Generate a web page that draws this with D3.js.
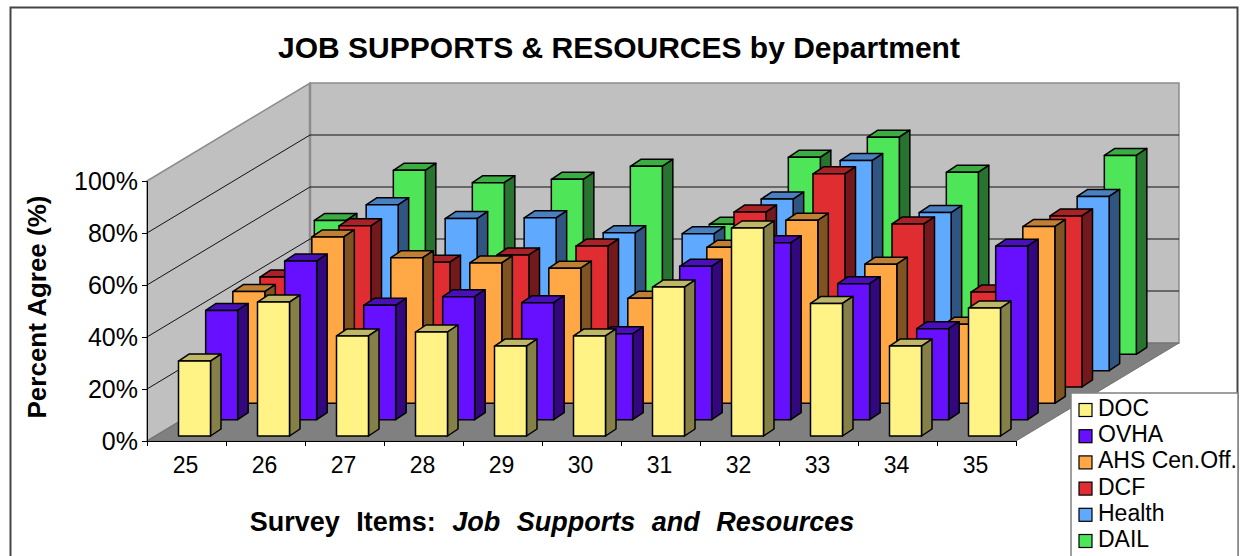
<!DOCTYPE html>
<html><head><meta charset="utf-8">
<script src="https://cdn.jsdelivr.net/npm/d3@7/dist/d3.min.js"></script>
<style>html,body{margin:0;padding:0;background:#fff}svg{display:block}text{font-family:"Liberation Sans",Arial,sans-serif;fill:#000}</style>
</head><body><svg id="c" width="1244" height="556"></svg>
<script>
const titleText = "JOB SUPPORTS & RESOURCES by Department";
const categories = ["25","26","27","28","29","30","31","32","33","34","35"];
const seriesNames = ["DOC","OVHA","AHS Cen.Off.","DCF","Health","DAIL"];
const percentTicks = [0,20,40,60,80,100];
const doc    = [28.8,51.5,38.5,40,34.6,38.5,57.3,80,51,34.6,49.2];
const ovha   = [42,61,44,47.3,45,33,59,68,52.3,35,66.7];
const ahs    = [43,64,56,54,52,40.4,60,70.4,53.5,30.4,68];
const dcf    = [42.3,62,48,50.8,54.2,30,67.3,82,62.7,36.5,65.8];
const health = [40,63.8,58.5,58.8,53,52.7,66,80.8,60.8,45,67];
const dail   = [51.5,70.8,66,67.3,72.3,50,75.8,83.5,70,45,76.5];
const seriesValues = [doc,ovha,ahs,dcf,health,dail];
const faceColors = ["#FFF385","#6610FF","#FFA845","#DF2D31","#5FA9FF","#4FE558"];
const topColors  = ["#BFB668","#4A10B8","#BF8036","#A82328","#4A80C0","#3BAD42"];
const sideColors = ["#857F48","#33087F","#7F5422","#73181B","#2F5580","#287330"];

const svg = d3.select("#c");
const fx0=147, fx1=1016, fy0=441, fyTop=181, bdx=163, bdy=98;

const xBand = d3.scaleBand().domain(categories).range([fx0,fx1]);
const xEdge = d3.scaleLinear().domain([0,categories.length]).range([fx0,fx1]);
const yVal = d3.scaleLinear().domain([0,100]).range([fy0,fyTop]);
const depth = d3.scaleLinear().domain([0,6]);
const dX = depth.copy().range([0,bdx]);
const dY = depth.copy().range([0,-bdy]);
const pts = a => a.map(p=>p.join(",")).join(" ");

// frame
svg.append("rect").attr("x",10.5).attr("y",7.5).attr("width",1227).attr("height",560).attr("fill","#fff").attr("stroke","#444").attr("stroke-width",2);

// walls
const wall="#C0C0C0", wallEdge="#8C8C8C";
svg.append("polygon").attr("points",pts([[fx0,yVal(100)],[fx0+bdx,yVal(100)-bdy],[fx0+bdx,fy0-bdy],[fx0,fy0]])).attr("fill",wall).attr("stroke",wallEdge).attr("stroke-width",1.5);
svg.append("polygon").attr("points",pts([[fx0+bdx,yVal(100)-bdy],[fx1+bdx,yVal(100)-bdy],[fx1+bdx,fy0-bdy],[fx0+bdx,fy0-bdy]])).attr("fill",wall).attr("stroke",wallEdge).attr("stroke-width",1.5);
svg.append("polygon").attr("points",pts([[fx0,fy0],[fx1,fy0],[fx1+bdx,fy0-bdy],[fx0+bdx,fy0-bdy]])).attr("fill","#808080").attr("stroke","#707070");
svg.append("line").attr("x1",fx0+bdx).attr("x2",fx0+bdx).attr("y1",yVal(100)-bdy).attr("y2",fy0-bdy).attr("stroke",wallEdge).attr("stroke-width",2.5);

// gridlines
percentTicks.filter(t=>t>0&&t<100).forEach(t=>{
  svg.append("polyline").attr("points",pts([[fx0,yVal(t)],[fx0+bdx,yVal(t)-bdy],[fx1+bdx,yVal(t)-bdy]])).attr("fill","none").attr("stroke","#111").attr("stroke-width",1);
});

// bars, back to front
const barW=32, sideX=10.5, sideY=7, barInset=31.5, baseInset=5;
for(let s=seriesValues.length-1;s>=0;s--){
  const g=svg.append("g");
  categories.forEach((c,i)=>{
    const v=seriesValues[s][i];
    const x=xBand(c)+barInset+dX(s), base=fy0-baseInset+dY(s), top=base-(fy0-yVal(v));
    const gb=g.append("g").attr("stroke","#000").attr("stroke-width",1.5).attr("stroke-linejoin","round");
    gb.append("polygon").attr("points",pts([[x,top],[x+sideX,top-sideY],[x+barW+sideX,top-sideY],[x+barW,top]])).attr("fill",topColors[s]);
    gb.append("polygon").attr("points",pts([[x+barW,top],[x+barW+sideX,top-sideY],[x+barW+sideX,base-sideY],[x+barW,base]])).attr("fill",sideColors[s]);
    gb.append("rect").attr("x",x).attr("y",top).attr("width",barW).attr("height",base-top).attr("fill",faceColors[s]);
  });
}

// axes
const yAxis = d3.axisLeft(yVal).tickValues(percentTicks).tickFormat(d=>d+"%").tickSize(5).tickPadding(4);
const ya = svg.append("g").attr("transform",`translate(${fx0},0)`).call(yAxis);
ya.selectAll("text").style("font-size","25px");
ya.select(".domain").attr("stroke","#000");
const xTicks = d3.axisBottom(xEdge).tickValues(d3.range(categories.length+1)).tickFormat("").tickSize(5).tickSizeOuter(0);
const xt = svg.append("g").attr("transform",`translate(0,${fy0})`).call(xTicks);
const xAxis = d3.axisBottom(xBand).tickSize(0).tickPadding(16);
const xa = svg.append("g").attr("transform",`translate(-1,${fy0})`).call(xAxis);
xa.select(".domain").remove();
xa.selectAll("text").style("font-size","23px");

// titles
svg.append("text").attr("x",619).attr("y",58).attr("text-anchor","middle").style("font-size","30px").style("font-weight","bold").text(titleText);
svg.append("clipPath").attr("id","yc").append("rect").attr("x",0).attr("y",197).attr("width",100).attr("height",300);
svg.append("g").attr("clip-path","url(#yc)").append("text").attr("transform","translate(46,307) rotate(-90)").attr("text-anchor","middle").style("font-size","26px").style("font-weight","bold").text("Percent Agree (%)");
const xt2=svg.append("text").attr("x",552).attr("y",531).attr("text-anchor","middle").style("font-size","27px").style("font-weight","bold").style("word-spacing","9px");
xt2.append("tspan").text("Survey Items: ");
xt2.append("tspan").style("font-style","italic").text("Job Supports and Resources");

// legend
svg.append("rect").attr("x",1071).attr("y",393).attr("width",167).attr("height",170).attr("fill","#fff").attr("stroke","#808080").attr("stroke-width",1.5);
const ly = d3.scalePoint().domain(seriesNames).range([410,541]);
seriesNames.forEach((n,i)=>{
  svg.append("rect").attr("x",1079).attr("y",ly(n)-6.5).attr("width",13).attr("height",13).attr("fill",faceColors[i]).attr("stroke","#000").attr("stroke-width",1.2);
  svg.append("text").attr("x",1098).attr("y",ly(n)+6).style("font-size","23px").text(n);
});
</script></body></html>
